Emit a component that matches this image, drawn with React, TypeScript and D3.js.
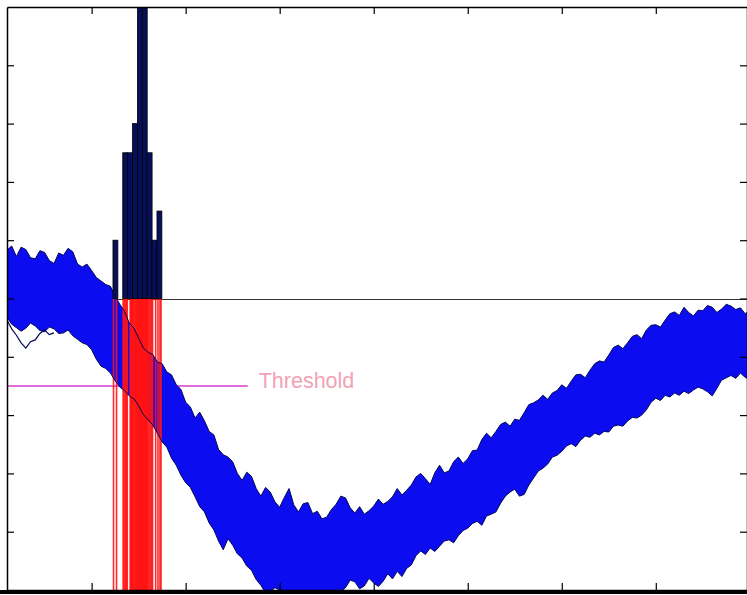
import React, { useEffect, useRef } from "react";
import * as d3 from "d3";

const W = 747;
const H = 595;

// trace envelope, sampled every 5 ms from 10 to 800
const sampleTimes = d3.range(10, 801, 5);

const upperEnvelope = [
  8.3, 9.0, 7.2, 8.8, 8.4, 7.0, 6.8, 8.2, 7.9, 6.5,
  6.0, 7.8, 7.4, 8.6, 8.0, 5.9, 5.4, 5.9, 4.8, 3.6,
  3.0, 2.4, 2.1, 0.4, -1.0, -2.2, -4.2, -5.1, -6.8, -8.5,
  -9.2, -9.6, -10.9, -11.2, -12.6, -13.1, -14.8, -15.6, -17.8, -18.6,
  -20.5, -19.5, -21.0, -22.8, -23.4, -25.9, -26.8, -27.2, -28.0, -30.0,
  -31.2, -29.8, -30.5, -32.6, -33.9, -32.4, -33.2, -34.9, -35.8, -34.1,
  -32.6, -35.4, -36.6, -35.2, -35.0, -36.9, -36.5, -37.8, -37.5, -36.2,
  -35.3, -33.9, -34.2, -35.9, -36.8, -35.7, -37.0, -36.4, -35.6, -34.4,
  -35.3, -34.8, -34.0, -32.6, -33.7, -32.9, -32.0, -30.6, -30.0, -30.9,
  -31.9, -29.9, -28.6, -29.9, -29.6, -28.0, -27.2, -28.3, -27.5, -26.1,
  -26.0, -24.2, -23.1, -23.9, -22.8, -21.6, -21.2, -21.9, -20.7, -20.9,
  -19.6, -18.2, -17.9, -17.4, -16.6, -17.3, -16.2, -15.8, -14.8, -15.4,
  -14.2, -13.1, -13.0, -13.6, -12.3, -11.2, -10.7, -10.9, -9.7, -8.4,
  -8.0, -8.6, -7.6, -6.5, -6.2, -6.9, -5.4, -4.6, -4.5, -4.9,
  -3.7, -2.6, -2.3, -2.9, -1.5, -2.4, -3.0, -2.0, -2.1, -1.2,
  -1.5, -2.4, -1.8, -1.0, -1.3, -1.9, -1.6, -2.6, -2.1,
];

const lowerEnvelope = [
  -3.2, -4.4, -5.0, -5.6, -5.1, -4.2, -4.7, -5.5, -5.7, -4.9,
  -5.2, -6.0, -5.9, -5.4, -6.4, -7.0, -7.6, -7.9, -8.8, -10.4,
  -11.6, -12.0, -12.8, -14.1, -15.2, -15.8, -16.7, -17.2, -18.4, -19.9,
  -20.8, -21.7, -23.1, -24.6, -25.5, -27.4, -28.6, -30.3, -31.6, -32.4,
  -34.0, -35.7, -36.6, -38.5, -39.7, -41.6, -43.1, -41.2, -42.3, -43.8,
  -44.5, -45.9, -46.6, -48.2, -49.2, -50.5, -50.3, -49.6, -50.0, -51.2,
  -51.0, -50.1, -50.7, -51.5, -51.4, -50.6, -50.9, -51.8, -51.0, -51.3,
  -51.7, -50.2, -49.6, -48.3, -48.6, -49.8, -49.3, -48.0, -48.8, -49.4,
  -48.5, -47.2, -48.1, -46.8, -47.7, -46.3, -45.7, -44.1, -43.3, -43.9,
  -42.8, -43.4, -42.5, -41.6, -41.4, -41.9, -40.7, -39.8, -39.4, -38.6,
  -38.2, -38.9, -37.3, -37.0, -36.6, -35.1, -33.9, -33.2, -32.7, -33.9,
  -33.6, -32.0, -30.8, -29.6, -29.1, -28.4, -27.2, -26.9, -26.2, -25.3,
  -24.9, -25.4, -24.3, -23.6, -23.8, -23.1, -23.4, -22.8, -22.9, -21.9,
  -21.7, -21.9, -21.0, -20.4, -20.5, -20.0, -19.1, -17.8, -17.1, -17.5,
  -16.6, -16.9, -16.2, -16.6, -15.9, -16.3, -15.7, -15.2, -15.5, -16.0,
  -16.7, -15.4, -14.0, -13.6, -13.2, -13.7, -12.8, -13.5, -14.0,
];

// one stray trace below the band at the start
const strayTimes = [10, 15, 20, 25, 30, 35, 40, 45, 50, 55, 60];
const strayTrace = [-3.7, -5.2, -6.3, -7.6, -8.5, -7.4, -7.1, -6.0, -5.4, -6.2, -5.9];

// histogram of threshold crossing times
const binStarts = [122.7, 127.9, 133.1, 138.3, 143.5, 148.7, 153.9, 159.1, 164.3, 169.5];
const binCounts = [2, 0, 5, 5, 6, 10, 10, 5, 2, 3];
const binWidth = 5.2;

const crossingTimes = [
  123.3, 126.5,
  133.5, 134.6, 135.8, 136.9, 137.9,
  141.0, 141.7, 142.3, 142.8, 143.3,
  143.8, 144.7, 145.6, 146.5, 147.4, 148.3,
  149.0, 149.5, 150.0, 150.6, 151.1, 151.6, 152.1, 152.7, 153.2, 153.7,
  154.2, 154.7, 155.2, 155.8, 156.3, 156.8, 157.3, 157.8, 158.4, 158.9,
  159.4, 160.0, 161.4, 162.5, 163.9,
  164.8, 168.1,
  170.6, 172.7, 173.8,
];

const threshold = -15;
const thresholdEnd = 266;

const xTicks = [100, 200, 300, 400, 500, 600, 700];
const yTicks = [-40, -30, -20, -10, 0, 10, 20, 30, 40];

export default function App() {
  const ref = useRef<SVGSVGElement>(null);

  useEffect(() => {
    const svg = d3.select(ref.current);
    svg.selectAll("*").remove();

    const x = d3.scaleLinear().domain([10, 797]).range([7, 747]);
    const y = d3.scaleLinear().domain([-50, 50]).range([590, 7]);
    const count = d3.scaleLinear().domain([0, 10]).range([y(0), y(50)]);

    svg.append("rect").attr("width", W).attr("height", H).attr("fill", "#fff");

    svg
      .append("clipPath")
      .attr("id", "plot-clip")
      .append("rect")
      .attr("x", x(10))
      .attr("y", y(50))
      .attr("width", x(797) - x(10))
      .attr("height", y(-50) - y(50));

    const plot = svg.append("g").attr("clip-path", "url(#plot-clip)");

    // threshold line
    plot
      .append("line")
      .attr("x1", x(10))
      .attr("x2", x(thresholdEnd))
      .attr("y1", y(threshold))
      .attr("y2", y(threshold))
      .attr("stroke", "#d63cd0")
      .attr("stroke-width", 1.5);

    // baseline of the histogram
    plot
      .append("line")
      .attr("x1", x(10))
      .attr("x2", x(797))
      .attr("y1", Math.round(y(0)) + 0.5)
      .attr("y2", Math.round(y(0)) + 0.5)
      .attr("stroke", "#333")
      .attr("stroke-width", 1);

    // trace band
    const band = d3
      .area<number>()
      .x((d, i) => x(sampleTimes[i]))
      .y0((d, i) => y(lowerEnvelope[i]))
      .y1((d) => y(d));

    plot
      .append("path")
      .datum(upperEnvelope)
      .attr("fill", "#0c0cf0")
      .attr("d", band);

    // red crossing markers
    plot
      .selectAll(".cross")
      .data(crossingTimes)
      .join("line")
      .attr("x1", (d) => x(d))
      .attr("x2", (d) => x(d))
      .attr("y1", y(0))
      .attr("y2", y(-50))
      .attr("stroke", "#ff1414")
      .attr("stroke-opacity", 0.9)
      .attr("stroke-width", 1.6);

    const edge = d3
      .line<number>()
      .x((d, i) => x(sampleTimes[i]))
      .y((d) => y(d));

    [upperEnvelope, lowerEnvelope].forEach((env) => {
      plot
        .append("path")
        .datum(env)
        .attr("fill", "none")
        .attr("stroke", "#00065a")
        .attr("stroke-width", 1)
        .attr("d", edge);
    });

    plot
      .append("path")
      .datum(strayTrace)
      .attr("fill", "none")
      .attr("stroke", "#00065a")
      .attr("stroke-width", 1.2)
      .attr(
        "d",
        d3
          .line<number>()
          .x((d, i) => x(strayTimes[i]))
          .y((d) => y(d))
      );

    // histogram bars
    plot
      .selectAll(".bar")
      .data(binCounts.map((c, i) => ({ c, s: binStarts[i] })).filter((d) => d.c > 0))
      .join("rect")
      .attr("x", (d) => x(d.s))
      .attr("width", (d) => x(d.s + binWidth) - x(d.s))
      .attr("y", (d) => count(d.c))
      .attr("height", (d) => count(0) - count(d.c))
      .attr("fill", "#06105a")
      .attr("stroke", "#000")
      .attr("stroke-width", 0.8);

    // axes, ticks pointing inwards on all four sides
    const noLabel = () => "";
    svg
      .append("g")
      .attr("transform", `translate(0,${y(-50)})`)
      .call(d3.axisBottom(x).tickValues(xTicks).tickSize(-7).tickSizeOuter(0).tickFormat(noLabel));
    svg
      .append("g")
      .attr("transform", `translate(0,${y(50)})`)
      .call(d3.axisTop(x).tickValues(xTicks).tickSize(-7).tickSizeOuter(0).tickFormat(noLabel));
    svg
      .append("g")
      .attr("transform", `translate(${x(10)},0)`)
      .call(d3.axisLeft(y).tickValues(yTicks).tickSize(-7).tickSizeOuter(0).tickFormat(noLabel));
    svg
      .append("g")
      .attr("transform", `translate(${x(797)},0)`)
      .call(d3.axisRight(y).tickValues(yTicks).tickSize(-7).tickSizeOuter(0).tickFormat(noLabel));

    svg.selectAll(".domain").attr("stroke", "#000").attr("stroke-width", 1.5);
    svg.selectAll(".tick line").attr("stroke", "#000").attr("stroke-width", 1.2);

    // heavier bottom edge
    svg
      .append("line")
      .attr("x1", 0)
      .attr("x2", W)
      .attr("y1", y(-50) + 2)
      .attr("y2", y(-50) + 2)
      .attr("stroke", "#000")
      .attr("stroke-width", 4);

    svg
      .append("text")
      .attr("x", x(thresholdEnd) + 11)
      .attr("y", y(threshold) + 2)
      .attr("font-family", "Liberation Sans, Arial, sans-serif")
      .attr("font-size", 21.5)
      .attr("fill", "#f2a2b6")
      .text("Threshold");
  }, []);

  return (
    <svg
      ref={ref}
      width={W}
      height={H}
      style={{ position: "absolute", left: 0, top: 0, display: "block" }}
    />
  );
}
